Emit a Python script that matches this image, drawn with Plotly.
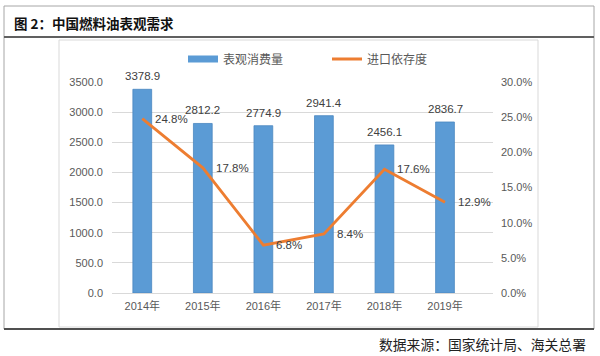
import plotly.graph_objects as go

categories = ["2014年", "2015年", "2016年", "2017年", "2018年", "2019年"]
consumption = [3378.9, 2812.2, 2774.9, 2941.4, 2456.1, 2836.7]
dependency = [0.248, 0.178, 0.068, 0.084, 0.176, 0.129]
dep_labels = ["24.8%", "17.8%", "6.8%", "8.4%", "17.6%", "12.9%"]
cons_labels = ["3378.9", "2812.2", "2774.9", "2941.4", "2456.1", "2836.7"]

title_text = "图 2：中国燃料油表观需求"
source_text = "数据来源：国家统计局、海关总署"
bar_name = "表观消费量"
line_name = "进口依存度"

BLUE = "#5B9BD5"
ORANGE = "#ED7D31"
FONT = "Liberation Sans, Noto Sans CJK SC, sans-serif"
CJK = "Noto Sans CJK SC, sans-serif"

W, H = 600, 356
ML, MR, MT, MB = 112, 107, 82, 63
PW, PH = W - ML - MR, H - MT - MB


def px(x):
    return (x - ML) / PW


def py(y):
    return (H - MB - y) / PH


fig = go.Figure()
fig.add_trace(go.Bar(
    x=categories, y=consumption, width=0.31,
    marker=dict(color=BLUE, line=dict(color="#4A86C0", width=0.8)),
    showlegend=False, yaxis="y",
))
fig.add_trace(go.Scatter(
    x=categories, y=dependency, mode="lines",
    line=dict(color=ORANGE, width=2.8),
    showlegend=False, yaxis="y2",
))
# legend entries
fig.add_trace(go.Scatter(
    x=[None], y=[None], mode="lines", name=bar_name,
    line=dict(color=BLUE, width=7), legend="legend",
))
fig.add_trace(go.Scatter(
    x=[None], y=[None], mode="lines", name=line_name,
    line=dict(color=ORANGE, width=2.8), legend="legend2",
))

LBL = dict(family=FONT, size=11.5, color="#404040")
TCK = dict(family=FONT, size=11, color="#595959")

annotations = []
for c, v, t in zip(categories, consumption, cons_labels):
    annotations.append(dict(x=c, y=v, xref="x", yref="y", text=t, showarrow=False,
                            yshift=13, font=LBL))
for c, v, t in zip(categories, dependency, dep_labels):
    annotations.append(dict(x=c, y=v, xref="x", yref="y2", text=t, showarrow=False,
                            xanchor="left", xshift=11, yanchor="middle", font=LBL))
annotations.append(dict(x=px(12), y=py(23), xref="paper", yref="paper", text="<b>" + title_text + "</b>",
                        showarrow=False, xanchor="left", yanchor="middle",
                        font=dict(family=CJK, size=13.5, color="#111111")))
annotations.append(dict(x=px(588), y=py(344), xref="paper", yref="paper", text=source_text,
                        showarrow=False, xanchor="right", yanchor="middle",
                        font=dict(family=CJK, size=13.8, color="#222222")))

shapes = [
    # inner chart frame
    dict(type="rect", xref="paper", yref="paper", x0=px(59), x1=px(538), y0=py(40), y1=py(327),
         line=dict(color="#D9D9D9", width=1), layer="below"),
    # outer frame
    dict(type="line", xref="paper", yref="paper", x0=px(4), x1=px(594), y0=py(6), y1=py(6),
         line=dict(color="#A6A6A6", width=1)),
    dict(type="line", xref="paper", yref="paper", x0=px(4), x1=px(4), y0=py(6), y1=py(329),
         line=dict(color="#A6A6A6", width=1)),
    dict(type="line", xref="paper", yref="paper", x0=px(594), x1=px(594), y0=py(6), y1=py(329),
         line=dict(color="#A6A6A6", width=1)),
    dict(type="line", xref="paper", yref="paper", x0=px(4), x1=px(594), y0=py(37), y1=py(37),
         line=dict(color="#606060", width=1.8)),
    dict(type="line", xref="paper", yref="paper", x0=px(4), x1=px(594), y0=py(329), y1=py(329),
         line=dict(color="#505050", width=1.8)),
]

fig.update_layout(
    width=W, height=H,
    margin=dict(l=ML, r=MR, t=MT, b=MB),
    paper_bgcolor="white", plot_bgcolor="white",
    font=dict(family=FONT, size=11, color="#595959"),
    xaxis=dict(showgrid=False, showline=False, ticks="", zeroline=False,
               tickfont=TCK, ticklabelstandoff=5),
    yaxis=dict(range=[0, 3500], dtick=500, tickformat=".1f", showgrid=True,
               gridcolor="#D9D9D9", gridwidth=1, zeroline=True, zerolinecolor="#D9D9D9",
               zerolinewidth=1, showline=False, ticks="", ticklabelstandoff=8,
               tickfont=TCK),
    yaxis2=dict(range=[0, 0.30], dtick=0.05, tickformat=".1%", overlaying="y", side="right",
                showgrid=False, zeroline=False, showline=False, ticks="", ticklabelstandoff=7,
                tickfont=TCK),
    legend=dict(orientation="h", x=px(183), y=py(59), xanchor="left", yanchor="middle",
                font=dict(family=CJK, size=12, color="#595959"), bgcolor="rgba(0,0,0,0)",
                borderwidth=0),
    legend2=dict(orientation="h", x=px(327), y=py(59), xanchor="left", yanchor="middle",
                 font=dict(family=CJK, size=12, color="#595959"), bgcolor="rgba(0,0,0,0)",
                 borderwidth=0),
    annotations=annotations,
    shapes=shapes,
    bargap=0.5,
)

fig.write_html("out.html", config={"displayModeBar": False},
               post_script="document.body.style.margin='0px';document.body.style.overflow='hidden';")
